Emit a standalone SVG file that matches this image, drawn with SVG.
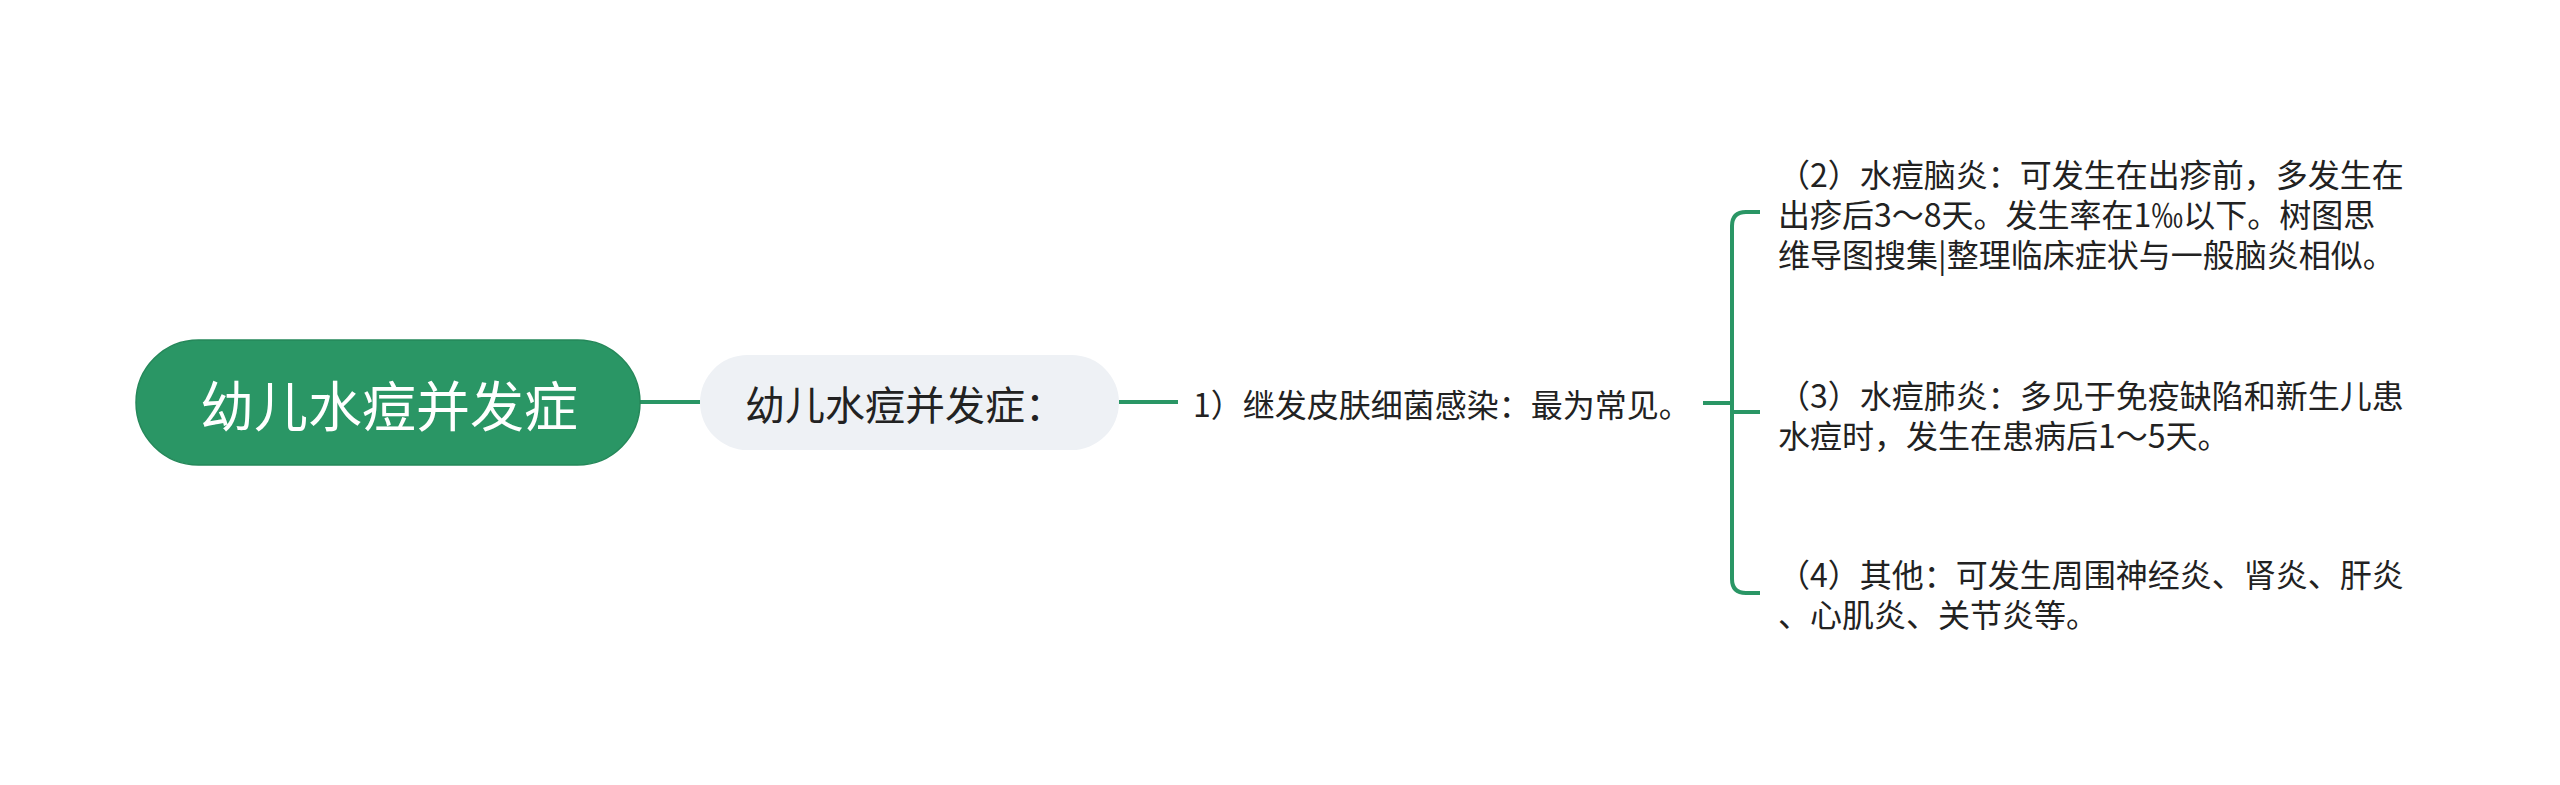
<svg xmlns="http://www.w3.org/2000/svg" width="2560" height="785" viewBox="0 0 2560 785">
<style>
text{font-family:"Noto Sans CJK SC","Noto Sans",sans-serif;}
.conn{fill:none;stroke:#2a9665;stroke-width:4;stroke-linecap:butt;}
.root-box{fill:#2a9665;stroke:#25885a;stroke-width:1.5;}
.root-txt{fill:#ffffff;font-size:54px;}
.sub-box{fill:#eef1f5;}
.sub-txt{fill:#222222;font-size:40px;}
.leaf{fill:#222222;font-size:32px;}
</style>
<rect width="2560" height="785" fill="#ffffff"/>
<g id="connectors">
<path class="conn" d="M640,402 H700"/>
<path class="conn" d="M1119,402 H1178"/>
<path class="conn" d="M1703,403 H1732"/>
<path class="conn" d="M1760,212 H1746 Q1732,212 1732,226 V579 Q1732,593 1746,593 H1760"/>
<path class="conn" d="M1732,412 H1760"/>
</g>
<g id="root">
<rect class="root-box" x="136" y="340" width="504" height="125" rx="62.5"/>
<text class="root-txt" x="389" y="403" text-anchor="middle" dominant-baseline="central">幼儿水痘并发症</text>
</g>
<g id="node-sub">
<rect class="sub-box" x="700" y="355" width="419" height="95" rx="47.5"/>
<text class="sub-txt" x="745" y="403" dominant-baseline="central">幼儿水痘并发症：</text>
</g>
<g id="node-1">
<text class="leaf" x="1193" y="403" dominant-baseline="central">1）继发皮肤细菌感染：最为常见。</text>
</g>
<g id="node-2">
<text class="leaf" x="1778" y="187">（2）水痘脑炎：可发生在出疹前，多发生在</text>
<text class="leaf" x="1778" y="227">出疹后3～8天。发生率在1‰以下。树图思</text>
<text class="leaf" x="1778" y="267">维导图搜集|整理临床症状与一般脑炎相似。</text>
</g>
<g id="node-3">
<text class="leaf" x="1778" y="408">（3）水痘肺炎：多见于免疫缺陷和新生儿患</text>
<text class="leaf" x="1778" y="448">水痘时，发生在患病后1～5天。</text>
</g>
<g id="node-4">
<text class="leaf" x="1778" y="587">（4）其他：可发生周围神经炎、肾炎、肝炎</text>
<text class="leaf" x="1778" y="627">、心肌炎、关节炎等。</text>
</g>
</svg>
